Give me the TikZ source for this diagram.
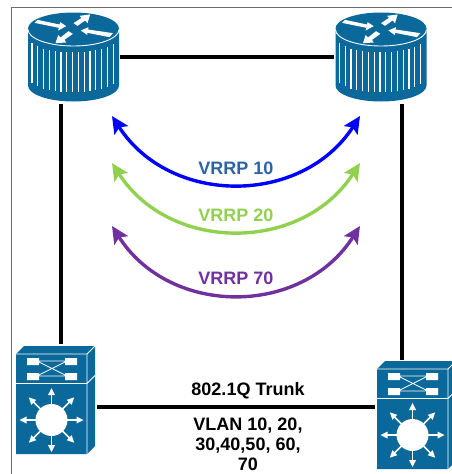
\documentclass[tikz,border=0pt]{standalone}
\usepackage{fontspec}
\setmainfont{Liberation Sans}
\usetikzlibrary{arrows.meta}
\definecolor{cisco}{HTML}{0A689A}
\definecolor{vgreen}{HTML}{92D050}
\definecolor{vpurple}{HTML}{7030A0}
\definecolor{vtext}{HTML}{2E62A6}
\tikzset{
  x=1pt,y=-1pt,
  link/.style={line width=3.6pt,black},
  arc10/.style={line width=3.4pt,{Stealth[length=17pt,width=16pt,inset=3.5pt]}-{Stealth[length=17pt,width=16pt,inset=3.5pt]}},
  lbl/.style={font=\fontsize{18}{22}\selectfont\bfseries,inner sep=0pt,align=center,anchor=base},
  anchorbox/.style={inner sep=0pt,minimum width=#1},
  router/.pic={
    \fill[cisco] (-45.5,0) -- (-45.5,57) arc[start angle=180,end angle=360,x radius=45.5,y radius=-16] -- (45.5,0) arc[start angle=0,end angle=180,x radius=45.5,y radius=-16] -- cycle;
    \draw[white,line width=.9pt] (-45.5,1) arc[start angle=180,end angle=360,x radius=45.5,y radius=-16.5];
    \foreach \i in {-7,...,7}{
      \pgfmathsetmacro{\xx}{\i*5.8-1}
      \pgfmathsetmacro{\yy}{16*sqrt(1-(\xx/45.5)^2)}
      \draw[white,line width=1.2pt] (\xx,\yy+8) -- (\xx,\yy+48);
    }
    \begin{scope}[x=.3333pt,y=-.3333pt,shift={(-220,-84)}]
      \fill[white] (103,67) -- (112,58) -- (178,72) -- (180,65) -- (198,77) -- (174,90) -- (176,82) -- cycle;
      \fill[white] (270,42) -- (262,68) -- (255,60) -- (232,76) -- (220,68) -- (244,52) -- (238,46) -- cycle;
      \fill[white] (242,90) -- (265,80) -- (264,87) -- (338,98) -- (328,110) -- (262,97) -- (262,104) -- cycle;
      \fill[white] (166,128) -- (174,104) -- (181,111) -- (205,92) -- (218,100) -- (193,118) -- (198,126) -- cycle;
    \end{scope}
  },
  swtch/.pic={
    \fill[cisco] (0,0) -- (8,-8) -- (79,-8) -- (79,92) -- (71,100) -- (0,100) -- cycle;
    \draw[white,line width=.8pt] (0,0) -- (71,0) -- (79,-8) (71,0) -- (71,100) (0,29.5) -- (71,29.5) -- (79,21.5);
    \fill[white] (11,4) rectangle (23,11) (11,19) rectangle (23,26) (49,4) rectangle (61,11) (49,19) rectangle (61,26);
    \draw[white,line width=.7pt] (23,7) -- (49,7) (23,22) -- (49,22) (23,8) -- (49,21) (23,21) -- (49,8);
    \fill[white] (35.5,66) circle[radius=16];
    \foreach \a in {0,45,...,315}{
      \begin{scope}[shift={(35.5,66)},rotate=\a]
        \draw[white,line width=1.5pt] (15,0) -- (26,0);
        \fill[white] (32,0) -- (25,-3.5) -- (25,3.5) -- cycle;
      \end{scope}
    }
  }
}
\begin{document}
\begin{tikzpicture}
\useasboundingbox (0,0) rectangle (452,474);
\draw[gray!85!black,line width=1pt] (11.5,474) -- (11.5,7.5) -- (452,7.5);
\node[anchorbox=91pt,minimum height=90pt] (r1) at (73.5,57) {};
\node[anchorbox=91pt,minimum height=90pt] (r2) at (381,57) {};
\node[anchorbox=79pt,minimum height=108pt] (s1) at (55.5,400) {};
\node[anchorbox=79pt,minimum height=108pt] (s2) at (416.5,415) {};
\pic at (73.5,28.5) {router};
\pic at (381,28.5) {router};
\pic at (16,354) {swtch};
\pic at (377,369) {swtch};
\coordinate (r1b) at (61,104);
\coordinate (r2b) at (402,104);
\coordinate (s1t) at (61,344);
\coordinate (s2t) at (402,360);
\draw[link] ([xshift=1pt]r1.east) -- ([xshift=-1pt]r2.west);
\draw[link] (r1b) -- (s1t);
\draw[link] (r2b) -- (s2t);
\coordinate (s1r) at (97,407);
\coordinate (s2l) at (375,407);
\draw[link] (s1r) -- (s2l);
\coordinate (a1) at (112,116); \coordinate (b1) at (360,116);
\coordinate (a2) at (112,163); \coordinate (b2) at (360,163);
\coordinate (a3) at (112,226); \coordinate (b3) at (360,226);
\draw[arc10,blue] (a1) .. controls +(58,90) and +(-58,90) .. (b1);
\draw[arc10,vgreen] (a2) .. controls +(58,90) and +(-58,90) .. (b2);
\draw[arc10,vpurple] (a3) .. controls +(58,91) and +(-58,91) .. (b3);
\node[lbl,text=vtext] (v10) at (236,174) {VRRP 10};
\node[lbl,text=vgreen] (v20) at (236,221) {VRRP 20};
\node[lbl,text=vpurple] (v70) at (236,284) {VRRP 70};
\node[lbl,text=black] (tr) at (248,395) {802.1Q Trunk};
\node[lbl,text=black] (vl1) at (248,430) {VLAN 10, 20,};
\node[lbl,text=black] (vl2) at (248,450) {30,40,50, 60,};
\node[lbl,text=black] (vl3) at (248,470) {70};
\end{tikzpicture}
\end{document}
